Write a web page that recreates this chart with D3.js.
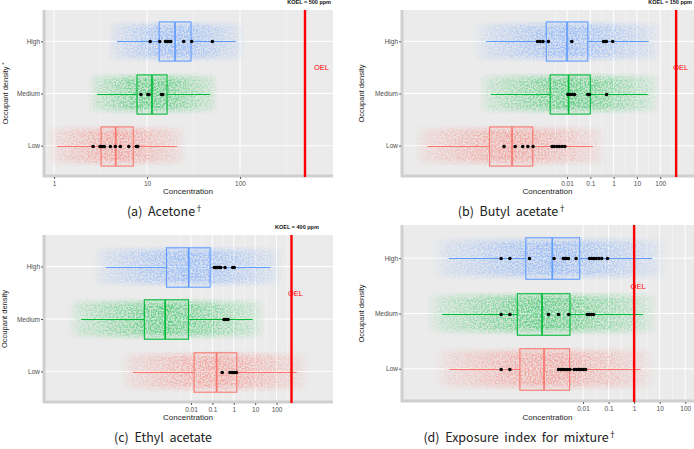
<!DOCTYPE html>
<html><head><meta charset="utf-8">
<script src="https://cdn.jsdelivr.net/npm/d3@7"></script>
<style>body{margin:0;background:#fff}</style>
</head><body><svg id="chart" width="694" height="449"></svg>
<script>
// ---------- DATA ----------
const groups = ["High", "Medium", "Low"];
const groupColors = ["#619CFF", "#00BA38", "#F8766D"];

// (a) Acetone  (order: High, Medium, Low)
const aWhiskerLow = [4.75, 2.9, 1.08];
const aQ1 = [13.5, 7.8, 3.2];
const aMedian = [20, 11.3, 4.6];
const aQ3 = [29.7, 16.4, 7.1];
const aWhiskerHigh = [90, 47.6, 21];
const aMeasured = [
  [10.8, 13.7, 15.8, 16.5, 17.3, 18, 24.8, 30.2, 50.4],
  [8.6, 10.2, 10.5, 14.3, 14.7],
  [2.63, 3.12, 3.26, 3.47, 4.03, 4.56, 5.16, 6.36, 7.67, 7.94]
];
const aOEL = 500;
const aDomain = [0.76, 1000];
const aTicks = [1, 10, 100];
const aTickLabels = ["1", "10", "100"];

// (b) Butyl acetate
const bWhiskerLow = [3.5e-6, 5.5e-6, 1.05e-8];
const bQ1 = [1.3e-3, 1.9e-3, 4.8e-6];
const bMedian = [0.01, 0.0117, 4.4e-5];
const bQ3 = [0.078, 0.1, 3.4e-4];
const bWhiskerHigh = [32, 29, 0.13];
const bMeasured = [
  [5.5e-4, 7.1e-4, 9.3e-4, 1.6e-3, 0.016, 0.37, 0.44, 0.49, 0.91],
  [0.011, 0.0138, 0.0174, 0.0214, 0.078, 0.091, 0.5],
  [2.0e-5, 6.0e-5, 1.26e-4, 2.1e-4, 3.5e-4, 2.3e-3, 2.8e-3, 3.7e-3, 4.7e-3, 6.2e-3, 8.1e-3]
];
const bOEL = 480;
const bDomain = [7.6e-10, 2800];
const bTicks = [0.01, 0.1, 1, 10, 100];
const bTickLabels = ["0.01", "0.1", "1", "10", "100"];

// (c) Ethyl acetate
const cWhiskerLow = [1.07e-6, 7.2e-8, 1.9e-5];
const cQ1 = [7.2e-4, 6.6e-5, 0.014];
const cMedian = [7.8e-3, 6.2e-4, 0.158];
const cQ3 = [0.078, 7.6e-3, 1.38];
const cWhiskerHigh = [52, 7.6, 870];
const cMeasured = [
  [0.123, 0.148, 0.178, 0.209, 0.245, 0.39, 0.89, 1.05],
  [0.35, 0.44, 0.54],
  [0.29, 0.66, 0.85, 1.05, 1.32]
];
const cOEL = 500;
const cDomain = [1.2e-9, 43600];
const cTicks = [0.01, 0.1, 1, 10, 100];
const cTickLabels = ["0.01", "0.1", "1", "10", "100"];

// (d) Exposure index for mixture
const dWhiskerLow = [5.6e-8, 3.1e-8, 6.0e-8];
const dQ1 = [5.8e-5, 2.7e-5, 3.4e-5];
const dMedian = [6.3e-4, 2.5e-4, 3.0e-4];
const dQ3 = [7.4e-3, 3.1e-3, 3.0e-3];
const dWhiskerHigh = [5.0, 2.2, 1.78];
const dMeasured = [
  [6.3e-6, 1.38e-5, 8.1e-5, 7.4e-4, 1.7e-3, 2.0e-3, 2.3e-3, 2.7e-3, 5.4e-3, 0.018, 0.022, 0.027, 0.033, 0.042, 0.054, 0.091],
  [6.3e-6, 1.38e-5, 4.5e-4, 1.1e-3, 2.75e-3, 0.0148, 0.018, 0.022, 0.026],
  [6.3e-6, 1.38e-5, 1.1e-3, 1.35e-3, 1.66e-3, 2.0e-3, 2.5e-3, 3.1e-3, 4.5e-3, 5.5e-3, 6.8e-3, 8.3e-3, 0.0102, 0.0126]
];
const dOEL = 1;
const dDomain = [7.6e-10, 220];
const dTicks = [0.01, 0.1, 1, 10, 100];
const dTickLabels = ["0.01", "0.1", "1", "10", "100"];

// ---------- LAYOUT ----------
const panels = [
  { id: "a", lo: aWhiskerLow, q1: aQ1, med: aMedian, q3: aQ3, hi: aWhiskerHigh, pts: aMeasured,
    oel: aOEL, domain: aDomain, ticks: aTicks, tickLabels: aTickLabels,
    koel: "KOEL = 500 ppm", koelX: 331, koelY: 4, koelAnchor: "end",
    caption: "(a)  Acetone", dagger: true, ytitle: "Occupant density", star: true,
    x0: 43, x1: 333, y0: 10, y1: 177, oelDx: 16.5, ytX: 6, capX: 165, capY: 216, titleY: 194 },
  { id: "b", lo: bWhiskerLow, q1: bQ1, med: bMedian, q3: bQ3, hi: bWhiskerHigh, pts: bMeasured,
    oel: bOEL, domain: bDomain, ticks: bTicks, tickLabels: bTickLabels,
    koel: "KOEL = 150 ppm", koelX: 692, koelY: 4, koelAnchor: "end",
    caption: "(b)  Butyl  acetate", dagger: true, ytitle: "Occupant density", star: false,
    x0: 401, x1: 694, y0: 10, y1: 177, oelDx: 4.5, ytX: 362, capX: 512, capY: 216, titleY: 194 },
  { id: "c", lo: cWhiskerLow, q1: cQ1, med: cMedian, q3: cQ3, hi: cWhiskerHigh, pts: cMeasured,
    oel: cOEL, domain: cDomain, ticks: cTicks, tickLabels: cTickLabels,
    koel: "KOEL = 400 ppm", koelX: 297, koelY: 229, koelAnchor: "middle",
    caption: "(c)  Ethyl  acetate", dagger: false, ytitle: "Occupant density", star: false,
    x0: 43, x1: 333, y0: 235, y1: 403, oelDx: 4, ytX: 5, capX: 163, capY: 442, titleY: 420 },
  { id: "d", lo: dWhiskerLow, q1: dQ1, med: dMedian, q3: dQ3, hi: dWhiskerHigh, pts: dMeasured,
    oel: dOEL, domain: dDomain, ticks: dTicks, tickLabels: dTickLabels,
    koel: null,
    caption: "(d)  Exposure  index  for  mixture", dagger: true, ytitle: "Occupant density", star: false,
    x0: 401, x1: 694, y0: 225, y1: 402, oelDx: 4, ytX: 362, capX: 520, capY: 442, titleY: 420 }
];

const svg = d3.select("#chart");
const defs = svg.append("defs");
const FONT = "'Liberation Sans', Arial, sans-serif";

// grain filter: gives the jitter clouds a speckled, point-like look
const f = defs.append("filter").attr("id", "grain").attr("x", "0").attr("y", "0").attr("width", "1").attr("height", "1");
f.append("feTurbulence").attr("type", "fractalNoise").attr("baseFrequency", 0.6).attr("numOctaves", 2).attr("seed", 7).attr("result", "noise");
f.append("feColorMatrix").attr("in", "noise").attr("type", "matrix")
  .attr("values", "0 0 0 0 0  0 0 0 0 0  0 0 0 0 0  0 0 0 -4 2.5").attr("result", "mask");
f.append("feComposite").attr("in", "SourceGraphic").attr("in2", "mask").attr("operator", "in");

// soft vertical fade for jitter band edges
const vf = defs.append("linearGradient").attr("id", "vfade").attr("x1", 0).attr("y1", 0).attr("x2", 0).attr("y2", 1);
[[0, 0], [0.18, 1], [0.82, 1], [1, 0]].forEach(([o, a]) =>
  vf.append("stop").attr("offset", o).attr("stop-color", "#fff").attr("stop-opacity", a));
defs.append("mask").attr("id", "bandmask").attr("maskContentUnits", "objectBoundingBox")
  .append("rect").attr("x", 0).attr("y", 0).attr("width", 1).attr("height", 1).attr("fill", "url(#vfade)");

panels.forEach(p => {
  const x = d3.scaleLog().domain(p.domain).range([p.x0, p.x1]);
  const y = d3.scalePoint().domain(groups).range([p.y0, p.y1]).padding(0.6);
  const step = y.step();
  const g = svg.append("g");

  // panel background
  g.append("rect").attr("x", p.x0).attr("y", p.y0).attr("width", p.x1 - p.x0).attr("height", p.y1 - p.y0)
    .attr("fill", "#EBEBEB");

  // minor gridlines (half decades)
  const logT = p.ticks.map(t => Math.log10(t));
  const minors = [];
  for (let i = -1; i < logT.length; i++) {
    const m = (i < 0 ? logT[0] - 0.5 : logT[i] + 0.5);
    const v = Math.pow(10, m);
    if (v > p.domain[0] && v < p.domain[1]) minors.push(v);
  }
  g.selectAll(null).data(minors).join("line")
    .attr("x1", d => x(d)).attr("x2", d => x(d)).attr("y1", p.y0).attr("y2", p.y1)
    .attr("stroke", "#F7F7F7").attr("stroke-width", 0.6);
  g.selectAll(null).data(p.ticks).join("line")
    .attr("x1", d => x(d)).attr("x2", d => x(d)).attr("y1", p.y0).attr("y2", p.y1)
    .attr("stroke", "#FFFFFF").attr("stroke-width", 1);
  g.selectAll(null).data(groups).join("line")
    .attr("x1", p.x0).attr("x2", p.x1).attr("y1", d => y(d)).attr("y2", d => y(d))
    .attr("stroke", "#FFFFFF").attr("stroke-width", 1);

  // axis strips (left/bottom)
  g.append("line").attr("x1", p.x0 + 1).attr("x2", p.x0 + 1).attr("y1", p.y0).attr("y2", p.y1)
    .attr("stroke", "#CFCFCF").attr("stroke-width", 3);
  g.append("line").attr("x1", p.x0).attr("x2", p.x1).attr("y1", p.y1 - 1).attr("y2", p.y1 - 1)
    .attr("stroke", "#CFCFCF").attr("stroke-width", 3);

  // jitter cloud tint (density gradient following the box statistics)
  groups.forEach((grp, i) => {
    const gid = `grad-${p.id}-${i}`;
    const xl = x(p.lo[i]), xh = x(p.hi[i]);
    const span = xh - xl, ext = 0.08;
    const X0 = xl - span * ext, W = span * (1 + 2 * ext);
    const off = v => Math.max(0, Math.min(1, (x(v) - X0) / W));
    const lg = defs.append("linearGradient").attr("id", gid).attr("gradientUnits", "userSpaceOnUse")
      .attr("x1", X0).attr("x2", X0 + W).attr("y1", 0).attr("y2", 0);
    [[0, 0.0], [off(p.lo[i]), 0.14], [off(p.q1[i]), 0.42], [off(p.med[i]), 0.5], [off(p.q3[i]), 0.42], [off(p.hi[i]), 0.14], [1, 0.0]]
      .forEach(([o, a]) => lg.append("stop").attr("offset", o).attr("stop-color", groupColors[i]).attr("stop-opacity", a));
    const band = g.append("g").attr("mask", "url(#bandmask)");
    band.append("rect").attr("x", X0).attr("width", W)
      .attr("y", y(grp) - step * 0.4).attr("height", step * 0.8)
      .attr("fill", `url(#${gid})`).attr("opacity", 0.3);
    band.append("rect").attr("x", X0).attr("width", W)
      .attr("y", y(grp) - step * 0.4).attr("height", step * 0.8)
      .attr("fill", `url(#${gid})`).attr("filter", "url(#grain)");
  });

  // whiskers, boxes, medians
  groups.forEach((grp, i) => {
    const c = groupColors[i], cy = Math.round(y(grp)) + 0.5, bh = step * 0.75;
    g.append("line").attr("x1", x(p.lo[i])).attr("x2", x(p.q1[i])).attr("y1", cy).attr("y2", cy)
      .attr("stroke", c).attr("stroke-width", 1.1);
    g.append("line").attr("x1", x(p.q3[i])).attr("x2", x(p.hi[i])).attr("y1", cy).attr("y2", cy)
      .attr("stroke", c).attr("stroke-width", 1.1);
    g.append("rect").attr("x", x(p.q1[i])).attr("width", x(p.q3[i]) - x(p.q1[i]))
      .attr("y", cy - bh / 2).attr("height", bh)
      .attr("fill", "none").attr("stroke", c).attr("stroke-width", 1.1);
    g.append("line").attr("x1", x(p.med[i])).attr("x2", x(p.med[i])).attr("y1", cy - bh / 2).attr("y2", cy + bh / 2)
      .attr("stroke", c).attr("stroke-width", 1.7);
  });

  // measured points
  groups.forEach((grp, i) => {
    g.selectAll(null).data(p.pts[i]).join("circle")
      .attr("cx", d => x(d)).attr("cy", Math.round(y(grp)) + 0.5).attr("r", 1.8).attr("fill", "#000");
  });

  // OEL line + label
  g.append("line").attr("x1", x(p.oel)).attr("x2", x(p.oel)).attr("y1", p.y0).attr("y2", p.y1)
    .attr("stroke", "#FF0000").attr("stroke-width", 2.4);
  g.append("text").attr("x", x(p.oel) + p.oelDx).attr("y", (y("High") + y("Medium")) / 2 + 3)
    .attr("text-anchor", "middle").attr("font-family", FONT).attr("font-size", 7.5)
    .attr("fill", "#FF0000").text("OEL");

  // axes
  const xAxis = d3.axisBottom(x).tickValues(p.ticks).tickFormat((d, j) => p.tickLabels[j]).tickSize(2).tickPadding(2);
  const xa = g.append("g").attr("transform", `translate(0,${p.y1})`).call(xAxis);
  const yAxis = d3.axisLeft(y).tickSize(2).tickPadding(1);
  const ya = g.append("g").attr("transform", `translate(${p.x0},0)`).call(yAxis);
  [xa, ya].forEach(a => {
    a.select(".domain").remove();
    a.selectAll("line").attr("stroke", "#333").attr("stroke-width", 0.8);
    a.selectAll("text").attr("font-family", FONT).attr("font-size", 6.5).attr("fill", "#4D4D4D");
  });

  // axis titles
  g.append("text").attr("x", (p.x0 + p.x1) / 2).attr("y", p.titleY).attr("text-anchor", "middle")
    .attr("font-family", FONT).attr("font-size", 8).attr("fill", "#222").text("Concentration");
  const yt = g.append("text").attr("transform", `translate(${p.ytX},${(p.y0 + p.y1) / 2}) rotate(-90)`)
    .attr("text-anchor", "middle").attr("dominant-baseline", "middle")
    .attr("font-family", FONT).attr("font-size", 7.5).attr("fill", "#222").text(p.ytitle);
  if (p.star) yt.append("tspan").attr("dy", -2).attr("font-size", 6).text(" *");

  // KOEL header
  if (p.koel) {
    g.append("text").attr("x", p.koelX).attr("y", p.koelY).attr("text-anchor", p.koelAnchor)
      .attr("font-family", FONT).attr("font-size", 5.5).attr("font-weight", "bold").attr("fill", "#111").text(p.koel);
  }

  // caption
  const cap = g.append("text").attr("x", p.capX).attr("y", p.capY).attr("text-anchor", "middle")
    .attr("font-family", "'Noto Sans CJK KR', 'Noto Sans', sans-serif").attr("font-size", 12.5)
    .attr("fill", "#222").style("white-space", "pre").text(p.caption);
  if (p.dagger) cap.append("tspan").attr("dy", -5).attr("font-size", 8).text("†");
});
</script></body></html>
